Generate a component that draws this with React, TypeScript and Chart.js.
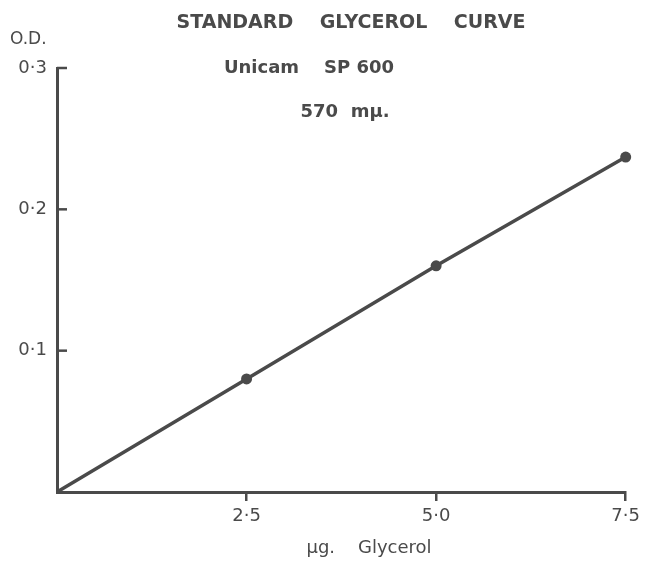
import React, { useEffect, useRef } from "react";
import { Chart, registerables } from "chart.js";

Chart.register(...registerables);

const glycerolUg = [0, 2.5, 5.0, 7.5];
const opticalDensity = [0, 0.08, 0.16, 0.237];
const xTickValues = [2.5, 5.0, 7.5];
const yTickValues = [0.1, 0.2, 0.3];
const titleLines = ["STANDARD    GLYCEROL    CURVE", "Unicam    SP 600", "570  mµ."];
const yAxisTitle = "O.D.";
const xAxisTitle = "µg.    Glycerol";

const INK = "#4a4a4a";
const FONT = "'DejaVu Sans', sans-serif";

const fmt = (v: number) => v.toFixed(1).replace(".", "·");

export default function App() {
  const ref = useRef<HTMLCanvasElement | null>(null);
  useEffect(() => {
    if (!ref.current) return;
    const textPlugin = {
      id: "texts",
      afterDraw(chart: any) {
        const ctx = chart.ctx;
        const ys = chart.scales.y;
        ctx.save();
        ctx.strokeStyle = INK;
        ctx.lineWidth = 2.5;
        yTickValues.forEach((v) => {
          const py = ys.getPixelForValue(v);
          ctx.beginPath();
          ctx.moveTo(chart.chartArea.left, py);
          ctx.lineTo(chart.chartArea.left + 10, py);
          ctx.stroke();
        });
        ctx.fillStyle = INK;
        ctx.textBaseline = "middle";
        ctx.textAlign = "center";
        ctx.font = `bold 19px ${FONT}`;
        ctx.fillText(titleLines[0], 351, 23);
        ctx.font = `bold 18px ${FONT}`;
        ctx.fillText(titleLines[1], 309, 68);
        ctx.fillText(titleLines[2], 345, 112);
        ctx.font = `17px ${FONT}`;
        ctx.textAlign = "left";
        ctx.fillText(yAxisTitle, 10, 40);
        ctx.textAlign = "center";
        ctx.font = `18px ${FONT}`;
        ctx.fillText(xAxisTitle, 369, 548);
        ctx.restore();
      },
    };
    const chart = new Chart(ref.current, {
      type: "scatter",
      data: {
        datasets: [
          {
            data: glycerolUg.map((x, i) => ({ x, y: opticalDensity[i] })),
            showLine: true,
            borderColor: INK,
            backgroundColor: INK,
            borderWidth: 3.5,
            clip: false,
            pointRadius: (c: any) => (c.dataIndex === 0 ? 0 : 5.5),
            pointBorderWidth: 0,
          },
        ],
      },
      options: {
        animation: false,
        responsive: false,
        layout: { padding: { top: 68, right: 19, left: 0, bottom: 0 } },
        plugins: { legend: { display: false }, tooltip: { enabled: false } },
        scales: {
          x: {
            type: "linear",
            min: 0,
            max: 7.5,
            afterFit: (s: any) => {
              s.height = 75;
            },
            afterBuildTicks: (s: any) => {
              s.ticks = xTickValues.map((v) => ({ value: v }));
            },
            border: { display: true, color: INK, width: 3 },
            grid: { drawOnChartArea: false, drawTicks: true, tickLength: 9, color: INK, lineWidth: 2.5 },
            ticks: {
              color: INK,
              font: { family: FONT, size: 18 },
              padding: 5,
              maxRotation: 0,
              callback: (v: any) => fmt(Number(v)),
            },
          },
          y: {
            type: "linear",
            min: 0,
            max: 0.3,
            afterFit: (s: any) => {
              s.width = 57;
            },
            afterBuildTicks: (s: any) => {
              s.ticks = yTickValues.map((v) => ({ value: v }));
            },
            border: { display: true, color: INK, width: 3 },
            grid: { drawOnChartArea: false, drawTicks: false },
            ticks: {
              color: INK,
              font: { family: FONT, size: 18 },
              padding: 10,
              callback: (v: any) => fmt(Number(v)),
            },
          },
        },
      },
      plugins: [textPlugin],
    } as any);
    return () => chart.destroy();
  }, []);
  return (
    <div style={{ position: "fixed", left: 0, top: 0, width: 645, height: 567, background: "#fff" }}>
      <canvas ref={ref} width={645} height={567} style={{ width: 645, height: 567 }} />
    </div>
  );
}
